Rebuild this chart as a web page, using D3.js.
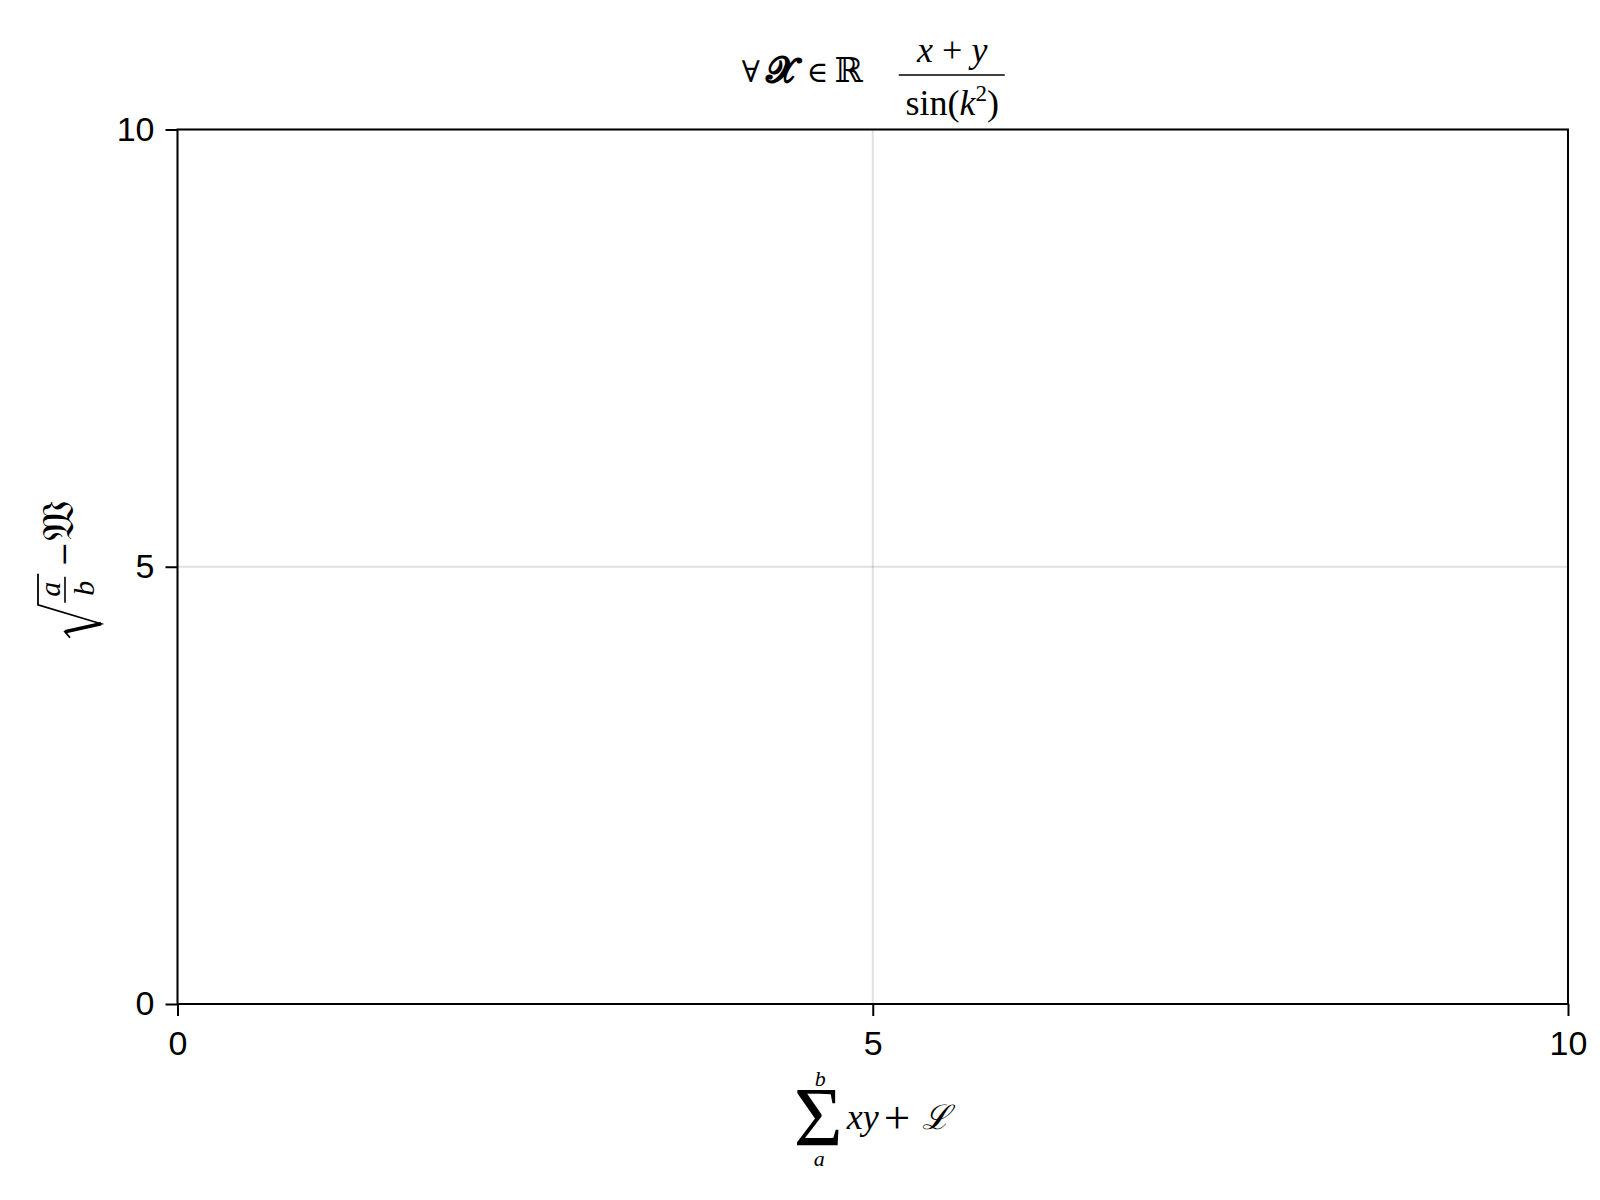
<!DOCTYPE html>
<html>
<head>
<meta charset="utf-8">
<script src="https://cdn.jsdelivr.net/npm/d3@7"></script>
<style>
  html, body { margin: 0; padding: 0; background: #fff; }
  svg { display: block; }
  .math { font-family: "Liberation Serif", "DejaVu Serif", serif; fill: #000; }
</style>
</head>
<body>
<script>
// ---- data ----
const xDomain = [0, 10];
const yDomain = [0, 10];
const xTicks = [0, 5, 10];
const yTicks = [0, 5, 10];
const xTickLabels = ["0", "5", "10"];
const yTickLabels = ["0", "5", "10"];

const W = 1600, H = 1200;
const margin = { left: 177.5, right: 32, top: 129.5, bottom: 196 };
const pw = W - margin.left - margin.right;
const ph = H - margin.top - margin.bottom;

const svg = d3.select("body").append("svg").attr("width", W).attr("height", H);

const x = d3.scaleLinear().domain(xDomain).range([margin.left, margin.left + pw]);
const y = d3.scaleLinear().domain(yDomain).range([margin.top + ph, margin.top]);

// grid
const grid = svg.append("g");
grid.selectAll("line.gx").data(xTicks).join("line")
  .attr("x1", d => x(d)).attr("x2", d => x(d))
  .attr("y1", margin.top).attr("y2", margin.top + ph)
  .attr("stroke", "rgba(0,0,0,0.12)").attr("stroke-width", 2);
grid.selectAll("line.gy").data(yTicks).join("line")
  .attr("y1", d => y(d)).attr("y2", d => y(d))
  .attr("x1", margin.left).attr("x2", margin.left + pw)
  .attr("stroke", "rgba(0,0,0,0.12)").attr("stroke-width", 2);

// axes
const xAxis = d3.axisBottom(x).tickValues(xTicks).tickFormat((d, i) => xTickLabels[i])
  .tickSize(12).tickPadding(15).tickSizeOuter(0);
const yAxis = d3.axisLeft(y).tickValues(yTicks).tickFormat((d, i) => yTickLabels[i])
  .tickSize(12).tickPadding(11).tickSizeOuter(0);

const gx = svg.append("g").attr("transform", `translate(0,${margin.top + ph})`).call(xAxis);
const gy = svg.append("g").attr("transform", `translate(${margin.left},0)`).call(yAxis);
[gx, gy].forEach(g => {
  g.select(".domain").remove();
  g.selectAll(".tick line").attr("stroke", "#000").attr("stroke-width", 2);
  g.selectAll(".tick text").attr("fill", "#000")
    .style("font-family", "'Liberation Sans', Arial, sans-serif").style("font-size", "34px");
});

// spines (box)
svg.append("rect")
  .attr("x", margin.left).attr("y", margin.top)
  .attr("width", pw).attr("height", ph)
  .attr("fill", "none").attr("stroke", "#000").attr("stroke-width", 2);

// ---- title: ∀ 𝓧 ∈ ℝ   (x+y)/sin(k²) ----
const cx = x((xDomain[0] + xDomain[1]) / 2);
const title = svg.append("g").attr("transform", `translate(${cx},0)`);
const lhs = title.append("text").attr("class", "math").attr("y", 82);
lhs.append("tspan").attr("x", -131).attr("font-size", 30).style("font-family", "'DejaVu Serif', serif").text("\u2200");
lhs.append("tspan").attr("x", -107).attr("font-size", 36).attr("font-weight", "bold")
  .style("font-family", "'DejaVu Sans', 'DejaVu Serif', serif").text("\uD835\uDCE7");
lhs.append("tspan").attr("x", -66).attr("font-size", 29).style("font-family", "'DejaVu Serif', serif").text("\u2208");
lhs.append("tspan").attr("x", -38).attr("font-size", 34).style("font-family", "'DejaVu Serif', serif").text("\u211D");
// fraction
title.append("line").attr("x1", 26).attr("x2", 132).attr("y1", 75).attr("y2", 75)
  .attr("stroke", "#000").attr("stroke-width", 1.6);
const num = title.append("text").attr("class", "math").attr("x", 79.5).attr("y", 62)
  .attr("text-anchor", "middle").attr("font-size", 36);
num.append("tspan").attr("font-style", "italic").text("x");
num.append("tspan").text(" + ");
num.append("tspan").attr("font-style", "italic").text("y");
const den = title.append("text").attr("class", "math").attr("x", 79.5).attr("y", 115)
  .attr("text-anchor", "middle").attr("font-size", 36);
den.append("tspan").text("sin(");
den.append("tspan").attr("font-style", "italic").text("k");
den.append("tspan").attr("font-size", 23).attr("dy", -14).text("2");
den.append("tspan").attr("dy", 14).text(")");

// ---- x label: Σ_a^b xy + ℒ (one text element) ----
const xl = svg.append("text").attr("class", "math").attr("transform", `translate(${cx},0)`);
xl.append("tspan").attr("x", -79).attr("y", 1146).attr("font-size", 84).text("\u03A3");
xl.append("tspan").attr("x", -58).attr("y", 1086).attr("font-size", 22).attr("font-style", "italic").text("b");
xl.append("tspan").attr("x", -59).attr("y", 1166).attr("font-size", 22).attr("font-style", "italic").text("a");
xl.append("tspan").attr("x", -26).attr("y", 1129).attr("font-size", 36).attr("font-style", "italic").text("xy");
xl.append("tspan").attr("x", 11).attr("y", 1133).attr("font-size", 47).text("+");
xl.append("tspan").attr("x", 49).attr("y", 1129).attr("font-size", 34).attr("font-style", "italic")
  .style("font-family", "'DejaVu Serif', serif").text("\u2112");

// ---- y label: sqrt(a/b) − 𝔚 (rotated) ----
const cy = y((yDomain[0] + yDomain[1]) / 2);
const yl = svg.append("g").attr("transform", `translate(72,${cy}) rotate(-90)`);
yl.append("path")
  .attr("d", "M-71,-2 L-65,-7 L-57,29 L-38,-34 L-7,-34")
  .attr("fill", "none").attr("stroke", "#000").attr("stroke-width", 1.8)
  .attr("stroke-linejoin", "miter");
yl.append("path")
  .attr("d", "M-65,-7 L-57,29")
  .attr("fill", "none").attr("stroke", "#000").attr("stroke-width", 3.4);
yl.append("line").attr("x1", -36).attr("x2", -10).attr("y1", -7).attr("y2", -7)
  .attr("stroke", "#000").attr("stroke-width", 1.6);
const ylt = yl.append("text").attr("class", "math");
ylt.append("tspan").attr("x", -30).attr("y", -12).attr("font-size", 30).attr("font-style", "italic").text("a");
ylt.append("tspan").attr("x", -29).attr("y", 22).attr("font-size", 30).attr("font-style", "italic").text("b");
ylt.append("tspan").attr("x", 0).attr("y", 2).attr("font-size", 30)
  .style("font-family", "'DejaVu Serif', serif").text("\u2212");
ylt.append("tspan").attr("x", 26).attr("y", 1).attr("font-size", 44)
  .style("font-family", "'DejaVu Sans', 'DejaVu Serif', serif").text("\uD835\uDD1A");
</script>
</body>
</html>
